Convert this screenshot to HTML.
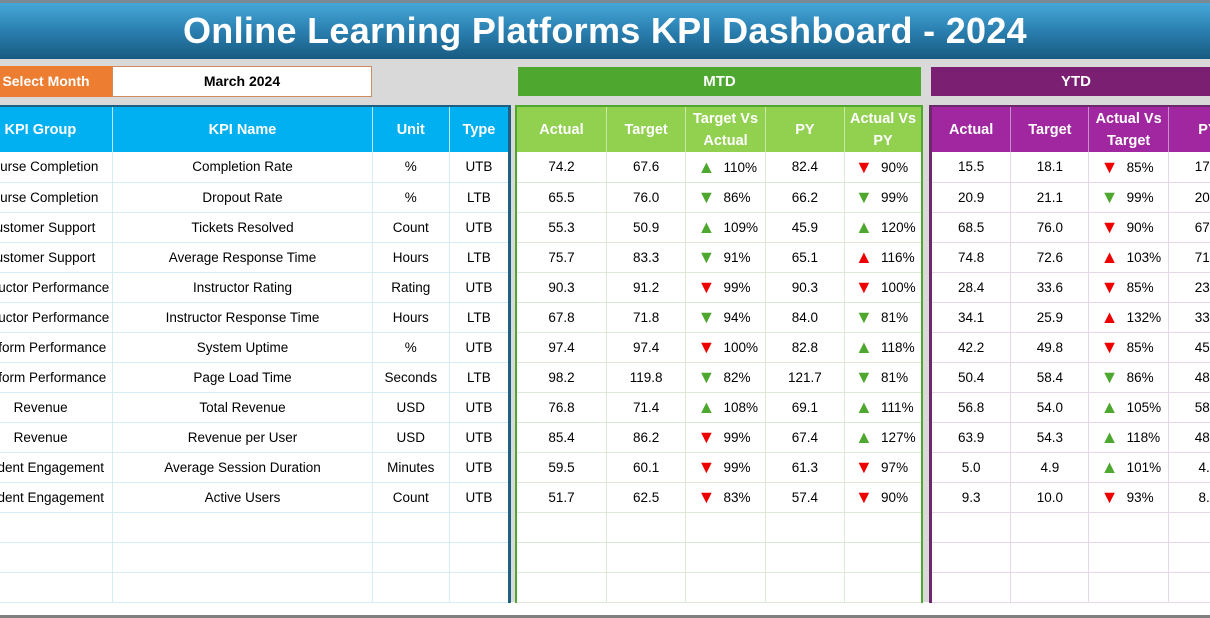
<!DOCTYPE html>
<html><head><meta charset="utf-8"><style>
*{box-sizing:border-box;margin:0;padding:0}
body{width:1210px;height:618px;overflow:hidden;position:relative;background:#fff;font-family:"Liberation Sans",sans-serif}
.bg{position:absolute;left:0;top:0;width:1210px;height:602px;background:#d9d9d9}
.title{position:absolute;left:0;top:3px;width:1210px;height:56px;background:linear-gradient(#45a8d8,#2a7fb0 50%,#175a80);color:#fff;font-weight:bold;font-size:36px;text-align:center;line-height:56px;letter-spacing:0.3px}
.topline{position:absolute;left:0;top:0;width:1210px;height:3px;background:#7a8a95}
.bot{position:absolute;left:0;top:615px;width:1210px;height:3px;background:#808080}
.sel{position:absolute;left:0;top:66px;width:112px;height:31px;background:#ed7d31;color:#fff;font-weight:bold;font-size:14px;line-height:31px;text-align:center;overflow:hidden}
.sel span{position:absolute;left:-10px;width:112px}
.month{position:absolute;left:112px;top:66px;width:260px;height:31px;background:#fff;border:1px solid #d08a60;font-weight:bold;font-size:14px;line-height:29px;text-align:center}
.band{position:absolute;top:67px;height:29px;color:#fff;font-weight:bold;font-size:15px;line-height:29px;text-align:center}
table{position:absolute;border-collapse:collapse;table-layout:fixed;background:#fff}
td,th{height:30px;font-size:13.5px;text-align:center;white-space:nowrap;overflow:hidden;font-weight:normal}
th{height:46px;color:#fff;font-weight:bold;font-size:14.5px;line-height:22px}
#L{left:-32px;top:105px;width:543px;border-right:3px solid #1f5f80;border-top:2px solid #1f5f80}
#L th{background:#00b0f0;border-right:1px solid #bfe6f6}
#L td{border:1px solid #d6ecf6;border-top:none}
#M{left:515px;top:105px;width:408px;border:2px solid #4ea72e;border-bottom:none}
#M th{background:#92d050;border-right:1px solid #c8e8a8}
#M td{border:1px solid #dde8d6;border-top:none}
#Y{left:929px;top:105px;width:319px;border-left:3px solid #6a2a6a;border-top:2px solid #6a2a6a}
#Y th{background:#a0279f;border-right:1px solid #c890c8}
#Y td{border:1px solid #e6d8e6;border-top:none}
.a{display:inline-block;width:34px;text-align:left;font-size:18px;padding-left:8px;line-height:14px;vertical-align:middle}
.g{color:#4ea72e}.r{color:#e00}
.p{display:inline-block;width:38px;text-align:left;vertical-align:middle}
</style></head><body>
<div class="bg"></div>
<div class="topline"></div>
<div class="title">Online Learning Platforms KPI Dashboard - 2024</div>
<div class="sel"><span>Select Month</span></div>
<div class="month">March 2024</div>
<div class="band" style="left:518px;width:403px;background:#4ea72e">MTD</div>
<div class="band" style="left:931px;width:290px;background:#7b1f72">YTD</div>

<table id="L">
<colgroup><col style="width:144px"><col style="width:259px"><col style="width:77px"><col style="width:60px"></colgroup>
<tr><th>KPI Group</th><th>KPI Name</th><th>Unit</th><th>Type</th></tr>
<tr><td>Course Completion</td><td>Completion Rate</td><td>%</td><td>UTB</td></tr>
<tr><td>Course Completion</td><td>Dropout Rate</td><td>%</td><td>LTB</td></tr>
<tr><td>Customer Support</td><td>Tickets Resolved</td><td>Count</td><td>UTB</td></tr>
<tr><td>Customer Support</td><td>Average Response Time</td><td>Hours</td><td>LTB</td></tr>
<tr><td>Instructor Performance</td><td>Instructor Rating</td><td>Rating</td><td>UTB</td></tr>
<tr><td>Instructor Performance</td><td>Instructor Response Time</td><td>Hours</td><td>LTB</td></tr>
<tr><td>Platform Performance</td><td>System Uptime</td><td>%</td><td>UTB</td></tr>
<tr><td>Platform Performance</td><td>Page Load Time</td><td>Seconds</td><td>LTB</td></tr>
<tr><td>Revenue</td><td>Total Revenue</td><td>USD</td><td>UTB</td></tr>
<tr><td>Revenue</td><td>Revenue per User</td><td>USD</td><td>UTB</td></tr>
<tr><td>Student Engagement</td><td>Average Session Duration</td><td>Minutes</td><td>UTB</td></tr>
<tr><td>Student Engagement</td><td>Active Users</td><td>Count</td><td>UTB</td></tr>
<tr><td></td><td></td><td></td><td></td></tr>
<tr><td></td><td></td><td></td><td></td></tr>
<tr><td></td><td></td><td></td><td></td></tr>
</table>

<table id="M">
<colgroup><col style="width:90px"><col style="width:79px"><col style="width:79px"><col style="width:79px"><col style="width:77px"></colgroup>
<tr><th>Actual</th><th>Target</th><th>Target Vs<br>Actual</th><th>PY</th><th>Actual Vs<br>PY</th></tr>
<tr><td>74.2</td><td>67.6</td><td><span class="a g">▲</span><span class="p">110%</span></td><td>82.4</td><td><span class="a r">▼</span><span class="p">90%</span></td></tr>
<tr><td>65.5</td><td>76.0</td><td><span class="a g">▼</span><span class="p">86%</span></td><td>66.2</td><td><span class="a g">▼</span><span class="p">99%</span></td></tr>
<tr><td>55.3</td><td>50.9</td><td><span class="a g">▲</span><span class="p">109%</span></td><td>45.9</td><td><span class="a g">▲</span><span class="p">120%</span></td></tr>
<tr><td>75.7</td><td>83.3</td><td><span class="a g">▼</span><span class="p">91%</span></td><td>65.1</td><td><span class="a r">▲</span><span class="p">116%</span></td></tr>
<tr><td>90.3</td><td>91.2</td><td><span class="a r">▼</span><span class="p">99%</span></td><td>90.3</td><td><span class="a r">▼</span><span class="p">100%</span></td></tr>
<tr><td>67.8</td><td>71.8</td><td><span class="a g">▼</span><span class="p">94%</span></td><td>84.0</td><td><span class="a g">▼</span><span class="p">81%</span></td></tr>
<tr><td>97.4</td><td>97.4</td><td><span class="a r">▼</span><span class="p">100%</span></td><td>82.8</td><td><span class="a g">▲</span><span class="p">118%</span></td></tr>
<tr><td>98.2</td><td>119.8</td><td><span class="a g">▼</span><span class="p">82%</span></td><td>121.7</td><td><span class="a g">▼</span><span class="p">81%</span></td></tr>
<tr><td>76.8</td><td>71.4</td><td><span class="a g">▲</span><span class="p">108%</span></td><td>69.1</td><td><span class="a g">▲</span><span class="p">111%</span></td></tr>
<tr><td>85.4</td><td>86.2</td><td><span class="a r">▼</span><span class="p">99%</span></td><td>67.4</td><td><span class="a g">▲</span><span class="p">127%</span></td></tr>
<tr><td>59.5</td><td>60.1</td><td><span class="a r">▼</span><span class="p">99%</span></td><td>61.3</td><td><span class="a r">▼</span><span class="p">97%</span></td></tr>
<tr><td>51.7</td><td>62.5</td><td><span class="a r">▼</span><span class="p">83%</span></td><td>57.4</td><td><span class="a r">▼</span><span class="p">90%</span></td></tr>
<tr><td></td><td></td><td></td><td></td><td></td></tr>
<tr><td></td><td></td><td></td><td></td><td></td></tr>
<tr><td></td><td></td><td></td><td></td><td></td></tr>
</table>

<table id="Y">
<colgroup><col style="width:80px"><col style="width:78px"><col style="width:79px"><col style="width:79px"></colgroup>
<tr><th>Actual</th><th>Target</th><th>Actual Vs<br>Target</th><th>PY</th></tr>
<tr><td>15.5</td><td>18.1</td><td><span class="a r">▼</span><span class="p">85%</span></td><td>17.4</td></tr>
<tr><td>20.9</td><td>21.1</td><td><span class="a g">▼</span><span class="p">99%</span></td><td>20.5</td></tr>
<tr><td>68.5</td><td>76.0</td><td><span class="a r">▼</span><span class="p">90%</span></td><td>67.2</td></tr>
<tr><td>74.8</td><td>72.6</td><td><span class="a r">▲</span><span class="p">103%</span></td><td>71.3</td></tr>
<tr><td>28.4</td><td>33.6</td><td><span class="a r">▼</span><span class="p">85%</span></td><td>23.1</td></tr>
<tr><td>34.1</td><td>25.9</td><td><span class="a r">▲</span><span class="p">132%</span></td><td>33.2</td></tr>
<tr><td>42.2</td><td>49.8</td><td><span class="a r">▼</span><span class="p">85%</span></td><td>45.6</td></tr>
<tr><td>50.4</td><td>58.4</td><td><span class="a g">▼</span><span class="p">86%</span></td><td>48.9</td></tr>
<tr><td>56.8</td><td>54.0</td><td><span class="a g">▲</span><span class="p">105%</span></td><td>58.1</td></tr>
<tr><td>63.9</td><td>54.3</td><td><span class="a g">▲</span><span class="p">118%</span></td><td>48.2</td></tr>
<tr><td>5.0</td><td>4.9</td><td><span class="a g">▲</span><span class="p">101%</span></td><td>4.8</td></tr>
<tr><td>9.3</td><td>10.0</td><td><span class="a r">▼</span><span class="p">93%</span></td><td>8.7</td></tr>
<tr><td></td><td></td><td></td><td></td></tr>
<tr><td></td><td></td><td></td><td></td></tr>
<tr><td></td><td></td><td></td><td></td></tr>
</table>
<div class="bot"></div>
</body></html>
